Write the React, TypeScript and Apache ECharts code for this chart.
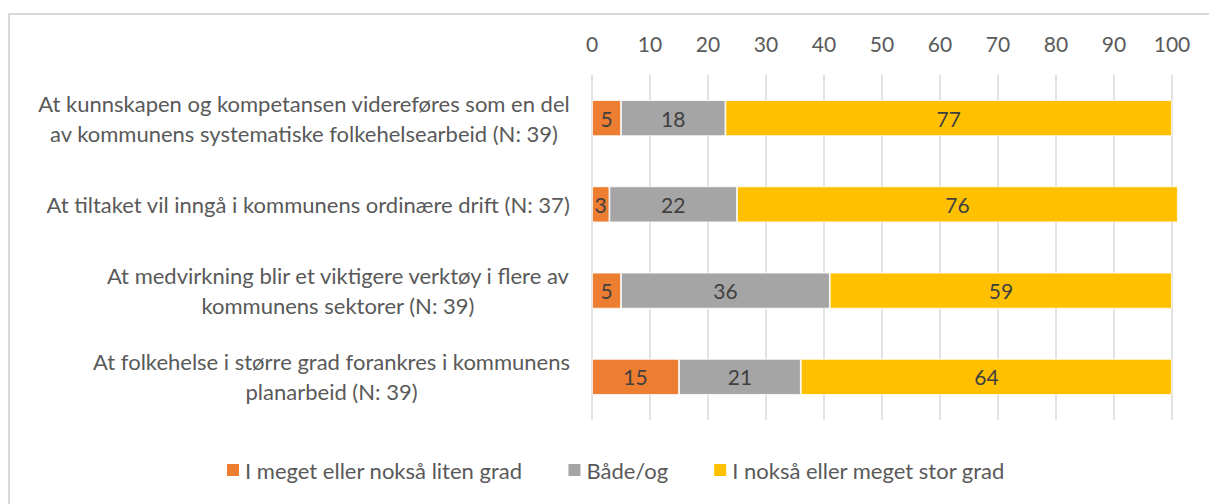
import React, { useEffect, useRef } from "react";
import * as echarts from "echarts";

const categories = [
  "At kunnskapen og kompetansen videreføres som en del\nav kommunens systematiske folkehelsearbeid (N: 39)",
  "At tiltaket vil inngå i kommunens ordinære drift (N: 37)",
  "At medvirkning blir et viktigere verktøy i flere av\nkommunens sektorer (N: 39)",
  "At folkehelse i større grad forankres i kommunens\nplanarbeid (N: 39)",
];
const seriesNames = ["I meget eller nokså liten grad", "Både/og", "I nokså eller meget stor grad"];
const lowValues = [5, 3, 5, 15];
const midValues = [18, 22, 36, 21];
const highValues = [77, 76, 59, 64];
const colors = ["#ED7D31", "#A5A5A5", "#FFC000"];

const FONT = "Lato";

export default function App() {
  const ref = useRef<HTMLDivElement>(null);
  useEffect(() => {
    const chart = echarts.init(ref.current!, null, { renderer: "svg" });
    const values = [lowValues, midValues, highValues];
    chart.setOption({
      animation: false,
      textStyle: { fontFamily: FONT },
      graphic: [
        {
          type: "rect",
          shape: { x: 9, y: 14, width: 1300, height: 600 },
          style: { fill: "none", stroke: "#D9D9D9", lineWidth: 2 },
          silent: true,
        },
      ],
      grid: { left: 592, right: 37, top: 75, bottom: 84, containLabel: false },
      legend: {
        top: 454,
        left: 220,
        itemWidth: 14,
        itemHeight: 14,
        itemGap: 44,
        icon: "rect",
        textStyle: { fontFamily: FONT, fontSize: 22, color: "#595959", padding: [0, 0, 0, 0] },
        data: seriesNames,
      },
      xAxis: {
        type: "value",
        position: "top",
        min: 0,
        max: 100,
        interval: 10,
        axisLine: { show: false },
        axisTick: { show: false },
        axisLabel: { color: "#595959", fontSize: 21, fontFamily: FONT, margin: 21 },
        splitLine: { lineStyle: { color: "#D9D9D9", width: 1.5 } },
      },
      yAxis: {
        type: "category",
        inverse: true,
        data: categories,
        axisLine: { show: false },
        axisTick: { show: false },
        axisLabel: {
          align: "right",
          margin: 22,
          color: "#595959",
          fontSize: 22,
          fontFamily: FONT,
          formatter: (v: string) =>
            v
              .split("\n")
              .map((l) => `{c|${l}}`)
              .join("\n"),
          rich: {
            c: { align: "center", fontSize: 22, fontFamily: FONT, color: "#595959", lineHeight: 30 },
          },
        },
      },
      series: values.map((vals, i) => ({
        name: seriesNames[i],
        type: "bar",
        stack: "total",
        barWidth: 36,
        clip: false,
        data: vals,
        itemStyle: { color: colors[i], borderColor: "#FFFFFF", borderWidth: 0.8 },
        label: {
          show: true,
          position: "inside",
          color: "#404040",
          fontSize: 21,
          fontFamily: FONT,
        },
      })),
    });
    return () => chart.dispose();
  }, []);
  return (
    <div
      ref={ref}
      style={{ position: "absolute", left: 0, top: 0, width: 1209, height: 504, background: "#fff" }}
    />
  );
}
